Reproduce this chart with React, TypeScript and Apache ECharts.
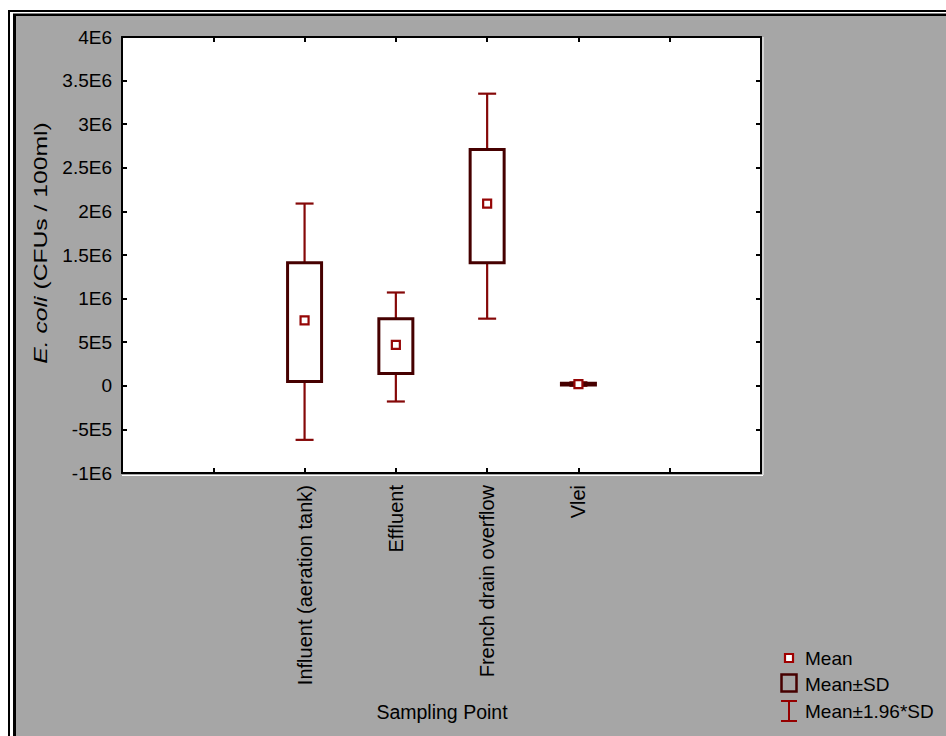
import React, { useEffect, useRef } from "react";
import * as echarts from "echarts";

// ---- data ----
const categories = ["Influent (aeration tank)", "Effluent", "French drain overflow", "Vlei"];
const means = [0.75e6, 0.47e6, 2.09e6, 0.02e6];
const sdLow = [0.05e6, 0.14e6, 1.41e6, 0.01e6];
const sdHigh = [1.41e6, 0.77e6, 2.71e6, 0.03e6];
const ciLow = [-0.62e6, -0.18e6, 0.77e6, 0.0e6];
const ciHigh = [2.09e6, 1.07e6, 3.35e6, 0.04e6];
const yTickLabels: Record<string, string> = {
  "-1000000": "-1E6",
  "-500000": "-5E5",
  "0": "0",
  "500000": "5E5",
  "1000000": "1E6",
  "1500000": "1.5E6",
  "2000000": "2E6",
  "2500000": "2.5E6",
  "3000000": "3E6",
  "3500000": "3.5E6",
  "4000000": "4E6",
};
const xTitle = "Sampling Point";
const legendLabels = ["Mean", "Mean±SD", "Mean±1.96*SD"];

const FONT = "'Liberation Sans', Arial, sans-serif";
const BG = "#a6a6a6";
const BOX_COLOR = "#460000";
const WHISKER_COLOR = "#850808";
const MEAN_COLOR = "#950606";
const SLOT_OFFSET = 2; // first category sits on the 3rd tick of a 0..7 axis

export default function App() {
  const ref = useRef<HTMLDivElement>(null);
  useEffect(() => {
    if (!ref.current) return;
    const chart = echarts.init(ref.current, null, { renderer: "svg" });
    const data = categories.map((_, i) => [i + SLOT_OFFSET, means[i], sdLow[i], sdHigh[i], ciLow[i], ciHigh[i]]);

    const renderItem = (params: any, api: any) => {
      const x = api.value(0);
      const pm = api.coord([x, api.value(1)]);
      const psl = api.coord([x, api.value(2)]);
      const psh = api.coord([x, api.value(3)]);
      const pcl = api.coord([x, api.value(4)]);
      const pch = api.coord([x, api.value(5)]);
      const cx = pm[0];
      const bw = 34;
      const cw = 18;
      const ms = 8;
      const wStyle = { stroke: WHISKER_COLOR, lineWidth: 2.2 };
      return {
        type: "group",
        children: [
          { type: "line", shape: { x1: cx, y1: pch[1], x2: cx, y2: psh[1] }, style: wStyle },
          { type: "line", shape: { x1: cx, y1: psl[1], x2: cx, y2: pcl[1] }, style: wStyle },
          { type: "line", shape: { x1: cx - cw / 2, y1: pch[1], x2: cx + cw / 2, y2: pch[1] }, style: wStyle },
          { type: "line", shape: { x1: cx - cw / 2, y1: pcl[1], x2: cx + cw / 2, y2: pcl[1] }, style: wStyle },
          {
            type: "rect",
            shape: { x: cx - bw / 2, y: psh[1], width: bw, height: Math.max(psl[1] - psh[1], 0.5) },
            style: { fill: "#ffffff", stroke: BOX_COLOR, lineWidth: 3 },
          },
          {
            type: "rect",
            shape: { x: cx - ms / 2, y: pm[1] - ms / 2, width: ms, height: ms },
            style: { fill: "#ffffff", stroke: MEAN_COLOR, lineWidth: 2.2 },
          },
        ],
      };
    };

    const axisLine = { show: true, onZero: false, lineStyle: { color: "#000", width: 2 } };
    const axisTick = { show: true, inside: true, length: 5, lineStyle: { color: "#000", width: 2 } };

    const lx = 789;
    chart.setOption({
      animation: false,
      backgroundColor: "#ffffff",
      grid: { left: 122, right: 185, top: 37, bottom: 263, show: true, backgroundColor: "#ffffff", borderWidth: 0 },
      xAxis: [
        {
          type: "value",
          min: 0,
          max: 7,
          interval: 1,
          position: "bottom",
          axisLine,
          axisTick,
          splitLine: { show: false },
          axisLabel: {
            rotate: 90,
            margin: 12,
            fontFamily: FONT,
            fontSize: 20,
            color: "#000",
            formatter: (v: number) => categories[v - SLOT_OFFSET] ?? "",
          },
        },
        {
          type: "value",
          min: 0,
          max: 7,
          interval: 1,
          position: "top",
          axisLine,
          axisTick,
          splitLine: { show: false },
          axisLabel: { show: false },
        },
      ],
      yAxis: [
        {
          type: "value",
          min: -1e6,
          max: 4e6,
          interval: 5e5,
          position: "left",
          axisLine,
          axisTick,
          splitLine: { show: false },
          axisLabel: {
            margin: 10,
            fontFamily: FONT,
            fontSize: 19,
            color: "#000",
            formatter: (v: number) => yTickLabels[String(Math.round(v))] ?? "",
          },
        },
        {
          type: "value",
          min: -1e6,
          max: 4e6,
          interval: 5e5,
          position: "right",
          axisLine,
          axisTick,
          splitLine: { show: false },
          axisLabel: { show: false },
        },
      ],
      graphic: [
        // page frame
        { type: "rect", z: -10, silent: true, shape: { x: 8, y: 10, width: 1000, height: 800 }, style: { fill: "#000" } },
        { type: "rect", z: -10, silent: true, shape: { x: 10, y: 12, width: 1000, height: 800 }, style: { fill: "#fff" } },
        { type: "rect", z: -10, silent: true, shape: { x: 13, y: 13.5, width: 1000, height: 800 }, style: { fill: "#000" } },
        { type: "rect", z: -10, silent: true, shape: { x: 16, y: 16, width: 1000, height: 800 }, style: { fill: BG } },
        // plot highlight
        { type: "line", silent: true, shape: { x1: 763, y1: 37, x2: 763, y2: 475 }, style: { stroke: "#ffffff", lineWidth: 1 } },
        { type: "line", silent: true, shape: { x1: 122, y1: 475.5, x2: 763, y2: 475.5 }, style: { stroke: "#ffffff", lineWidth: 1 } },
        // y axis title
        {
          type: "text",
          x: 41,
          y: 243,
          rotation: Math.PI / 2,
          scaleX: 1.3,
          style: {
            text: "{i|E. coli} (CFUs / 100ml)",
            fontFamily: FONT,
            fontSize: 19,
            fill: "#000",
            align: "center",
            verticalAlign: "middle",
            rich: { i: { fontStyle: "italic", fontFamily: FONT, fontSize: 19, fill: "#000" } },
          },
        },
        // x axis title
        {
          type: "text",
          x: 442,
          y: 712,
          style: { text: xTitle, fontFamily: FONT, fontSize: 19.5, fill: "#000", align: "center", verticalAlign: "middle" },
        },
        // legend
        { type: "rect", shape: { x: lx - 4, y: 654, width: 8, height: 8 }, style: { fill: "#fff", stroke: "#a00000", lineWidth: 2.2 } },
        { type: "rect", shape: { x: lx - 7.5, y: 674.5, width: 15, height: 17 }, style: { fill: "none", stroke: BOX_COLOR, lineWidth: 2.5 } },
        { type: "line", shape: { x1: lx, y1: 701, x2: lx, y2: 721 }, style: { stroke: "#950000", lineWidth: 2 } },
        { type: "line", shape: { x1: lx - 8, y1: 701, x2: lx + 8, y2: 701 }, style: { stroke: "#950000", lineWidth: 2 } },
        { type: "line", shape: { x1: lx - 8, y1: 721, x2: lx + 8, y2: 721 }, style: { stroke: "#950000", lineWidth: 2 } },
        ...legendLabels.map((t, i) => ({
          type: "text",
          x: 805,
          y: [658, 684, 711][i],
          style: { text: t, fontFamily: FONT, fontSize: 19, fill: "#000", align: "left", verticalAlign: "middle" },
        })),
      ],
      series: [
        {
          type: "custom",
          renderItem,
          data,
          xAxisIndex: 0,
          yAxisIndex: 0,
          encode: { x: 0, y: [1, 2, 3, 4, 5] },
          z: 5,
          clip: false,
        },
      ],
    });
    return () => chart.dispose();
  }, []);
  return (
    <div
      ref={ref}
      style={{ position: "absolute", left: 0, top: 0, width: 946, height: 736, background: "#fff" }}
    />
  );
}
